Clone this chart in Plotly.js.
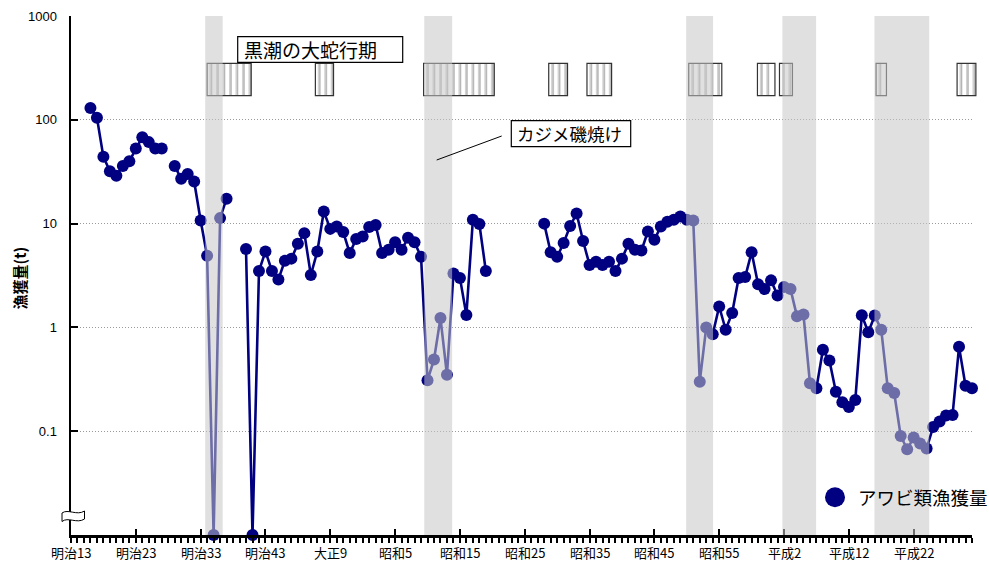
<!DOCTYPE html>
<html>
<head>
<meta charset="utf-8">
<script src="https://cdn.plot.ly/plotly-3.0.1.min.js"></script>
<style>
  html, body { margin: 0; padding: 0; background: #fff; }
  #chart { width: 989px; height: 561px; }
</style>
</head>
<body>
<div id="chart"></div>
<script>
// アワビ類漁獲量 (t) by year; null = no record, 0 = no catch (drawn on the axis floor)
const years = [
  1883, 1884, 1885, 1886, 1887, 1888, 1889, 1890, 1891, 1892,
  1893, 1894, 1895, 1896, 1897, 1898, 1899, 1900, 1901, 1902,
  1903, 1904, 1905, 1906, 1907, 1908, 1909, 1910, 1911, 1912,
  1913, 1914, 1915, 1916, 1917, 1918, 1919, 1920, 1921, 1922,
  1923, 1924, 1925, 1926, 1927, 1928, 1929, 1930, 1931, 1932,
  1933, 1934, 1935, 1936, 1937, 1938, 1939, 1940, 1941, 1942,
  1943, 1944, 1945, 1946, 1947, 1948, 1949, 1950, 1951, 1952,
  1953, 1954, 1955, 1956, 1957, 1958, 1959, 1960, 1961, 1962,
  1963, 1964, 1965, 1966, 1967, 1968, 1969, 1970, 1971, 1972,
  1973, 1974, 1975, 1976, 1977, 1978, 1979, 1980, 1981, 1982,
  1983, 1984, 1985, 1986, 1987, 1988, 1989, 1990, 1991, 1992,
  1993, 1994, 1995, 1996, 1997, 1998, 1999, 2000, 2001, 2002,
  2003, 2004, 2005, 2006, 2007, 2008, 2009, 2010, 2011, 2012,
  2013, 2014, 2015, 2016, 2017, 2018, 2019
];
const catchTons = [
  130, 105, 44, 32, 29, 36, 40, 53, 68, 61,
  53, 53, null, 36, 27, 30, 25.5, 10.7, 4.9, 0,
  11.3, 17.4, null, null, 5.7, 0, 3.5, 5.4, 3.5, 2.9,
  4.4, 4.6, 6.4, 8.1, 3.2, 5.4, 13.1, 8.9, 9.4, 8.3,
  5.2, 7.1, 7.5, 9.3, 9.7, 5.2, 5.6, 6.6, 5.6, 7.3,
  6.6, 4.8, 0.31, 0.49, 1.23, 0.35, 3.3, 3.0, 1.32, 10.9,
  9.9, 3.5, null, null, null, null, null, null, null, null,
  10.0, 5.3, 4.8, 6.5, 9.5, 12.5, 6.8, 4.0, 4.3, 4.0,
  4.3, 3.5, 4.6, 6.4, 5.6, 5.5, 8.4, 7.0, 9.4, 10.4,
  10.9, 11.7, 10.9, 10.7, 0.30, 1.0, 0.86, 1.59, 0.95, 1.38,
  3.0, 3.06, 5.3, 2.6, 2.34, 2.84, 2.03, 2.45, 2.34, 1.28,
  1.33, 0.29, 0.26, 0.61, 0.48, 0.24, 0.19, 0.171, 0.20, 1.31,
  0.90, 1.30, 0.95, 0.26, 0.233, 0.090, 0.067, 0.087, 0.076, 0.068,
  0.110, 0.124, 0.142, 0.143, 0.65, 0.274, 0.26
];

// x-axis ticks (Japanese era years) and y-axis ticks
const tickYears = [1880, 1890, 1900, 1910, 1920, 1930, 1940, 1950, 1960, 1970, 1980, 1990, 2000, 2010];
const tickLabels = ['明治13', '明治23', '明治33', '明治43', '大正9', '昭和5', '昭和15',
                    '昭和25', '昭和35', '昭和45', '昭和55', '平成2', '平成12', '平成22'];
const yTickVals = [0.1, 1, 10, 100, 1000];
const yTickLabels = ['0.1', '1', '10', '100', '1000'];

// カジメ磯焼け periods (shaded bands)
const barrenStart = [1900.7, 1934.5, 1974.9, 1989.75, 2003.95];
const barrenEnd   = [1903.4, 1938.8, 1979.05, 1994.95, 2012.4];

// 黒潮の大蛇行期 (striped boxes)
const meanderStart = [1901.0, 1917.7, 1934.4, 1953.7, 1959.6, 1975.3, 1985.9, 1989.3, 2004.2, 2016.7];
const meanderEnd   = [1907.8, 1920.5, 1945.3, 1956.6, 1963.4, 1980.4, 1988.6, 1991.3, 2005.8, 2019.6];

// ---- drawing ----
const X_MIN = 1880, X_MAX = 2019;
const AXIS_FLOOR = 0.01;            // zero catches sit on the broken axis floor
const M = { l: 71, r: 17, t: 16, b: 26 };
const W = 989, H = 561;
const PW = W - M.l - M.r, PH = H - M.t - M.b;
const px2x = px => (px - M.l) / PW;          // pixel -> paper
const py2y = py => (H - M.b - py) / PH;
const yr2x = yr => (yr - X_MIN) / (X_MAX - X_MIN);

const NAVY = '#000080';
const JP = '"Noto Sans CJK JP", "Noto Sans", sans-serif';

const plotted = catchTons.map(v => v === null ? null : (v === 0 ? AXIS_FLOOR : v));

// x tick labels are drawn as annotations so they can sit close under the axis
const tickAnnotations = tickYears.map((yr, i) => ({
  text: tickLabels[i], xref: 'x', yref: 'paper', x: yr, y: py2y(552),
  xanchor: 'center', yanchor: 'middle', showarrow: false,
  font: { family: JP, size: 13, color: '#000' }
}));

const traces = [
  {
    x: years, y: plotted, type: 'scatter', mode: 'lines+markers',
    line: { color: NAVY, width: 2.6 },
    marker: { color: NAVY, size: 12 },
    connectgaps: false, cliponaxis: false, showlegend: false,
    hovertemplate: '%{x}: %{y} t<extra></extra>'
  },
  { x: [], y: [], xaxis: 'x2', type: 'scatter', showlegend: false, hoverinfo: 'skip' }
];

const shapes = [];

// striped meander boxes
const boxTop = py2y(63.3), boxBot = py2y(95.7);
meanderStart.forEach((s, i) => {
  const e = meanderEnd[i];
  shapes.push({ type: 'rect', xref: 'paper', yref: 'paper', layer: 'above',
    x0: yr2x(s), x1: yr2x(e), y0: boxBot, y1: boxTop,
    fillcolor: '#ffffff', line: { width: 0 } });
  for (let k = s + 0.6; k < e - 0.15; k += 1) {
    shapes.push({ type: 'line', xref: 'paper', yref: 'paper', layer: 'above',
      x0: yr2x(k), x1: yr2x(k), y0: boxBot, y1: boxTop,
      line: { color: '#d2d2d2', width: 3 } });
    shapes.push({ type: 'line', xref: 'paper', yref: 'paper', layer: 'above',
      x0: yr2x(k) + 0.5 / PW, x1: yr2x(k) + 0.5 / PW, y0: boxBot, y1: boxTop,
      line: { color: '#b4b4b4', width: 1 } });
  }
  shapes.push({ type: 'rect', xref: 'paper', yref: 'paper', layer: 'above',
    x0: yr2x(s), x1: yr2x(e), y0: boxBot, y1: boxTop,
    fillcolor: 'rgba(0,0,0,0)', line: { color: '#333', width: 1.2 } });
});

// shaded barren-ground periods, laid over the data
barrenStart.forEach((s, i) => {
  shapes.push({ type: 'rect', xref: 'x', yref: 'paper', layer: 'above',
    x0: s, x1: barrenEnd[i], y0: 0, y1: 1,
    fillcolor: 'rgb(198,198,198)', opacity: 0.55, line: { width: 0 } });
});

// leader line for カジメ磯焼け
shapes.push({ type: 'line', xref: 'paper', yref: 'paper', layer: 'above',
  x0: px2x(501.7), y0: py2y(136), x1: px2x(436.7), y1: py2y(160),
  line: { color: '#000', width: 1 } });

// label boxes
shapes.push({ type: 'rect', xref: 'paper', yref: 'paper', layer: 'above',
  x0: px2x(237.7), x1: px2x(402.7), y0: py2y(62.3), y1: py2y(36.7),
  fillcolor: '#fff', line: { color: '#000', width: 1.2 } });
shapes.push({ type: 'rect', xref: 'paper', yref: 'paper', layer: 'above',
  x0: px2x(511.3), x1: px2x(630.7), y0: py2y(146.7), y1: py2y(120.7),
  fillcolor: '#fff', line: { color: '#000', width: 1.2 } });

// axis break mark at the bottom of the y axis
const brk = [[62, 513], [68, 508.5], [77, 516], [84.5, 511], [84.5, 519], [77, 524], [68, 516.5], [62, 521.5]];
const bp = brk.map(p => [px2x(p[0]), py2y(p[1])]);
shapes.push({ type: 'path', xref: 'paper', yref: 'paper', layer: 'above',
  path: `M ${bp[0][0]},${bp[0][1]} C ${bp[1][0]},${bp[1][1]} ${bp[2][0]},${bp[2][1]} ${bp[3][0]},${bp[3][1]} ` +
        `L ${bp[4][0]},${bp[4][1]} C ${bp[5][0]},${bp[5][1]} ${bp[6][0]},${bp[6][1]} ${bp[7][0]},${bp[7][1]} Z`,
  fillcolor: '#fff', line: { color: '#000', width: 1 } });

// legend marker
shapes.push({ type: 'circle', xref: 'paper', yref: 'paper', layer: 'above',
  x0: px2x(825), x1: px2x(845), y0: py2y(507.3), y1: py2y(487.3),
  fillcolor: NAVY, line: { color: NAVY, width: 0 } });

const annotations = [
  { text: '黒潮の大蛇行期', xref: 'paper', yref: 'paper', x: px2x(242), y: py2y(49.5),
    xanchor: 'left', yanchor: 'middle', showarrow: false,
    font: { family: JP, size: 19, color: '#000' } },
  { text: 'カジメ磯焼け', xref: 'paper', yref: 'paper', x: px2x(515), y: py2y(133.7),
    xanchor: 'left', yanchor: 'middle', showarrow: false,
    font: { family: JP, size: 17.5, color: '#000' } },
  { text: 'アワビ類漁獲量', xref: 'paper', yref: 'paper', x: px2x(856), y: py2y(497),
    xanchor: 'left', yanchor: 'middle', showarrow: false,
    font: { family: JP, size: 18.5, color: '#000' } },
  { text: '<b>漁獲量(t)</b>', xref: 'paper', yref: 'paper', x: px2x(19), y: py2y(278.5),
    xanchor: 'center', yanchor: 'middle', textangle: -90, showarrow: false,
    font: { family: JP, size: 15, color: '#000' } }
].concat(tickAnnotations);

const layout = {
  width: W, height: H, autosize: false,
  margin: M,
  paper_bgcolor: '#fff', plot_bgcolor: '#fff',
  showlegend: false,
  xaxis: {
    range: [X_MIN, X_MAX], showgrid: false, zeroline: false,
    showline: true, linecolor: '#000', linewidth: 2.5,
    tickmode: 'array', tickvals: tickYears, ticktext: tickLabels,
    showticklabels: false,
    ticks: 'outside', ticklen: 5, tickwidth: 2, tickcolor: '#000',
    minor: { tickmode: 'linear', tick0: X_MIN, dtick: 1, ticks: 'outside',
             ticklen: 5, tickwidth: 2, tickcolor: '#000', showgrid: false }
  },
  xaxis2: {
    overlaying: 'x', anchor: 'y', side: 'bottom', range: [X_MIN, X_MAX],
    showgrid: false, zeroline: false, showline: false, showticklabels: false,
    tickmode: 'array', tickvals: tickYears,
    ticks: 'inside', ticklen: 6, tickwidth: 2, tickcolor: '#000'
  },
  yaxis: {
    type: 'log', range: [-2, 3.0005],
    tickmode: 'array', tickvals: yTickVals, ticktext: yTickLabels,
    ticks: 'inside', ticklen: 7, tickwidth: 2, tickcolor: '#000',
    ticklabelstandoff: 9,
    showline: true, linecolor: '#000', linewidth: 2.5,
    showgrid: true, gridcolor: '#9a9a9a', gridwidth: 1, griddash: '1px,2px',
    zeroline: false,
    tickfont: { family: '"Liberation Sans", Arial, sans-serif', size: 13, color: '#000' }
  },
  shapes: shapes,
  annotations: annotations
};

Plotly.newPlot('chart', traces, layout, { displayModeBar: false, staticPlot: true });
</script>
</body>
</html>
